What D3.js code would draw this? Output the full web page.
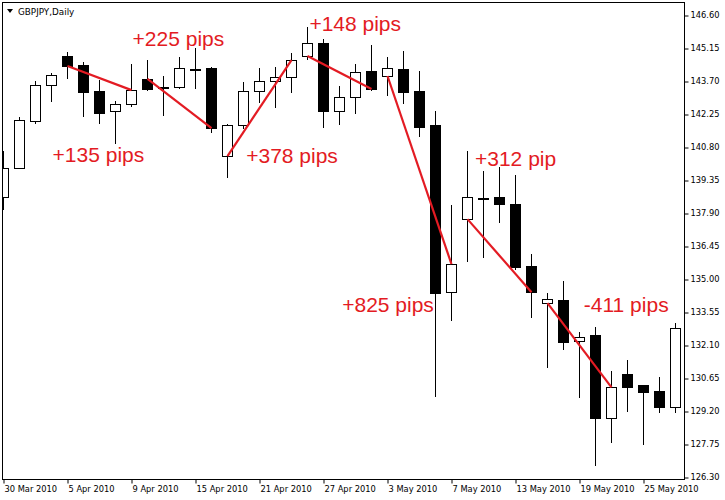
<!DOCTYPE html>
<html>
<head>
<meta charset="utf-8">
<script src="https://cdn.jsdelivr.net/npm/d3@7"></script>
<style>
  body { margin: 0; background: #fff; }
  .axis text { font-family: "DejaVu Sans", sans-serif; font-size: 8.3px; fill: #000; }
  .axis line { stroke: #000; }
</style>
</head>
<body>
<div id="chart"></div>
<script>
var dates = ["2010-03-30","2010-03-31","2010-04-01","2010-04-02","2010-04-05","2010-04-06","2010-04-07",
  "2010-04-08","2010-04-09","2010-04-12","2010-04-13","2010-04-14","2010-04-15","2010-04-16",
  "2010-04-19","2010-04-20","2010-04-21","2010-04-22","2010-04-23","2010-04-26","2010-04-27",
  "2010-04-28","2010-04-29","2010-04-30","2010-05-03","2010-05-04","2010-05-05","2010-05-06",
  "2010-05-07","2010-05-10","2010-05-11","2010-05-12","2010-05-13","2010-05-14","2010-05-17",
  "2010-05-18","2010-05-19","2010-05-20","2010-05-21","2010-05-24","2010-05-25","2010-05-26","2010-05-27"];
var open  = [138.60,139.87,141.94,143.52,144.80,144.40,143.26,142.38,142.69,143.79,143.43,143.43,144.23,144.27,
  140.40,141.76,143.26,143.70,143.87,144.80,145.37,142.38,142.99,144.14,143.92,144.23,143.26,141.76,
  134.42,137.63,138.55,138.60,138.29,135.56,133.94,134.07,132.26,132.53,128.88,130.81,130.33,130.07,129.36];
var high  = [140.62,142.11,143.70,144.05,144.97,144.53,143.74,142.82,144.45,144.62,143.92,144.75,145.15,144.31,
  141.81,143.65,144.27,144.31,144.93,146.07,145.54,143.48,144.45,145.28,144.75,145.02,144.14,142.38,
  138.24,140.62,139.74,139.92,139.56,136.09,134.37,134.90,132.66,132.88,130.95,131.43,130.33,130.68,133.06];
var low   = [138.02,139.83,141.81,142.77,143.79,142.11,141.81,140.93,142.55,143.26,142.16,143.35,143.35,141.41,
  139.43,141.59,142.73,142.51,143.17,144.62,141.63,141.76,142.25,143.26,143.04,142.69,141.24,129.80,
  133.14,135.74,135.91,137.45,135.39,133.28,131.08,131.87,129.76,126.77,127.78,129.14,127.69,129.10,129.10];
var close = [139.87,141.98,143.52,143.96,144.36,143.21,142.29,142.69,143.30,143.35,143.43,144.27,144.23,141.63,
  141.76,143.26,143.70,143.87,144.62,145.37,142.38,142.99,144.09,143.35,144.27,143.21,141.67,134.37,
  135.65,138.60,138.55,138.29,135.52,134.42,134.11,132.22,132.44,128.88,130.24,130.24,130.02,129.36,132.84];

var priceTicks = [126.30,127.75,129.20,130.65,132.10,133.55,135.00,136.45,137.90,139.35,140.80,142.25,143.70,145.15,146.60];
var dateTicks = [0,4,8,12,16,20,24,28,32,36,40];

// trend lines drawn on top (bar index + price)
var trendFrom = [4,9,14,19,24,29,34];
var trendFromPrice = [144.36,143.79,140.40,144.80,143.92,137.63,133.94];
var trendTo = [8,13,18,23,28,33,38];
var trendToPrice = [143.30,141.63,144.62,143.35,135.65,134.42,130.24];

// annotation texts, anchored at bar index / price of baseline
var noteText = ["+135 pips","+225 pips","+378 pips","+148 pips","+825 pips","+312 pip","-411 pips"];
var noteIdx = [3.1,8.1,15.2,19.15,21.2,29.5,36.3];
var notePrice = [140.14,145.24,140.09,145.90,133.54,139.96,133.54];

var width = 725, height = 500;
var plotL = 2, plotT = 2, plotR = 684, plotB = 479;

var svg = d3.select("#chart").append("svg")
    .attr("width", width)
    .attr("height", height)
    .style("background", "#fff");

var x = d3.scaleLinear().domain([0, dates.length - 1]).range([3, 675]);
var y = d3.scaleLinear().domain([126.30, 146.60]).range([477, 15]);

var parse = d3.timeParse("%Y-%m-%d");
var fmt = d3.timeFormat("%-d %b %Y");

svg.append("clipPath").attr("id", "plot")
    .append("rect").attr("x", plotL).attr("y", plotT)
    .attr("width", plotR - plotL).attr("height", plotB - plotT);

var candles = svg.append("g").attr("clip-path", "url(#plot)")
    .selectAll("g")
    .data(d3.range(dates.length))
    .enter().append("g");

function px(v) { return Math.round(v) + 0.5; }

candles.append("line")
    .attr("x1", d => px(x(d))).attr("x2", d => px(x(d)))
    .attr("y1", d => Math.round(y(high[d])))
    .attr("y2", d => Math.round(y(low[d])))
    .attr("stroke", "#000")
    .attr("stroke-width", 1);

candles.append("rect")
    .attr("x", d => px(x(d)) - 5)
    .attr("y", d => px(y(Math.max(open[d], close[d]))))
    .attr("width", 10)
    .attr("height", d => Math.max(1, Math.round(Math.abs(y(open[d]) - y(close[d])))))
    .attr("fill", d => close[d] >= open[d] ? "#fff" : "#000")
    .attr("stroke", "#000")
    .attr("stroke-width", 1)
    .attr("shape-rendering", "crispEdges");

// frame
svg.append("rect")
    .attr("x", plotL + 0.5).attr("y", plotT + 0.5)
    .attr("width", plotR - plotL).attr("height", plotB - plotT)
    .attr("fill", "none").attr("stroke", "#000");

// price axis
svg.append("g")
    .attr("class", "axis")
    .attr("transform", "translate(" + (plotR + 0.5) + ",0)")
    .call(d3.axisRight(y).tickValues(priceTicks).tickFormat(d3.format(".2f")).tickSize(4).tickPadding(2))
    .call(g => g.select(".domain").remove())
    .call(g => g.selectAll(".tick line").attr("transform", "translate(0,0.5)"));

// date axis
svg.append("g")
    .attr("class", "axis")
    .attr("transform", "translate(0," + (plotB + 0.5) + ")")
    .call(d3.axisBottom(x).tickValues(dateTicks).tickFormat(i => fmt(parse(dates[i]))).tickSize(4).tickPadding(3))
    .call(g => g.select(".domain").remove())
    .call(g => g.selectAll(".tick line").attr("transform", "translate(0.5,0)"))
    .call(g => g.selectAll(".tick text").attr("text-anchor", "start").attr("x", 1));

// title
svg.append("path")
    .attr("d", "M7,9 L13,9 L10,13 Z")
    .attr("fill", "#000");
svg.append("text")
    .attr("x", 18).attr("y", 14.5)
    .style("font-family", "DejaVu Sans, sans-serif")
    .style("font-size", "8.8px")
    .text("GBPJPY,Daily");

// trend lines
svg.append("g").selectAll("line")
    .data(d3.range(trendFrom.length))
    .enter().append("line")
    .attr("x1", d => x(trendFrom[d]) + 0.5)
    .attr("y1", d => y(trendFromPrice[d]))
    .attr("x2", d => x(trendTo[d]) + 0.5)
    .attr("y2", d => y(trendToPrice[d]))
    .attr("stroke", "#e31b23")
    .attr("stroke-width", 2.2);

svg.append("g").selectAll("text")
    .data(d3.range(noteText.length))
    .enter().append("text")
    .attr("x", d => x(noteIdx[d]))
    .attr("y", d => y(notePrice[d]))
    .attr("fill", "#e31b23")
    .style("font-family", "Liberation Sans, Arial, sans-serif")
    .style("font-size", "21px")
    .text(d => noteText[d]);
</script>
</body>
</html>
